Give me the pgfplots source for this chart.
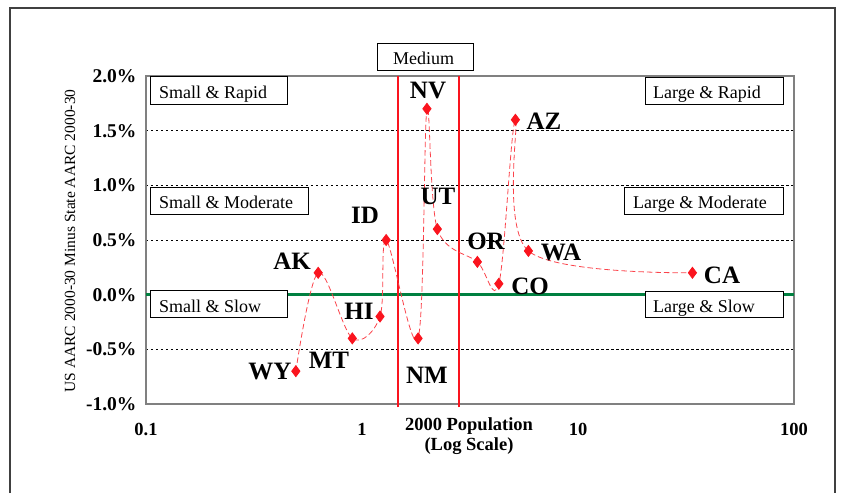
\documentclass[border=0pt]{standalone}
\usepackage{fontspec}
\setmainfont{Liberation Serif}
\usepackage{pgfplots}
\pgfplotsset{compat=1.18}
\definecolor{chartred}{RGB}{250,20,30}
\definecolor{chartgreen}{RGB}{0,128,64}
\definecolor{axisgray}{RGB}{128,128,128}
\definecolor{framegray}{RGB}{64,64,64}

\pgfplotstableread{
x y
0.494 -0.7
0.627 0.2
0.902 -0.4
1.212 -0.2
1.294 0.5
1.819 -0.4
1.998 1.7
2.233 0.6
3.421 0.3
4.301 0.1
5.131 1.6
5.894 0.4
33.872 0.2
}\statedata

\begin{document}
\begin{tikzpicture}[x=1pt,y=1pt]
\path[use as bounding box] (0,0) rectangle (841,493);
\draw[framegray, line width=1.3pt] (10,0) -- (10,485) -- (835,485) -- (835,0);
\begin{axis}[
  at={(146pt,89pt)}, anchor=south west,
  scale only axis, width=648pt, height=328pt,
  xmode=log, xmin=0.1, xmax=100, ymin=-1, ymax=2,
  xtick={0.1,1,10,100}, xticklabels={0.1,1,10,100},
  ytick={-1,-0.5,0,0.5,1,1.5,2},
  yticklabel={\pgfmathprintnumber[fixed,fixed zerofill,precision=1]{\tick}\%},
  /pgf/number format/assume math mode=true,
  major tick length=0pt, minor tick length=0pt,
  ymajorgrids, grid style={black, dash pattern=on 2.5pt off 2.5pt, line width=0.6pt},
  axis line style={axisgray, line width=1.2pt},
  xticklabel style={font=\fontsize{18.5}{20}\selectfont\bfseries, yshift=-16pt},
  yticklabel style={font=\fontsize{19.5}{21}\selectfont\bfseries, xshift=-6pt},
  clip=false,
]
\addplot[chartgreen, line width=2.6pt, mark=none] coordinates {(0.1,0) (100,0)};
\addplot[chartred, line width=2.4pt, mark=none] coordinates {(1.47,-1.03) (1.47,2)};
\addplot[chartred, line width=2.4pt, mark=none] coordinates {(2.81,-1.03) (2.81,2)};
\addplot[smooth, tension=0.55, color=chartred!80, line width=0.8pt,
  dash pattern=on 5.5pt off 3pt, mark=diamond*, mark size=5.5pt,
  mark options={solid, fill=chartred, draw=chartred}] table[x=x,y=y] {\statedata};
\end{axis}
% y label
\node[rotate=90, font=\fontsize{15.5}{17}\selectfont] at (70,252) {US AARC 2000-30 Minus State AARC 2000-30};
% x label
\node[anchor=base, font=\fontsize{18.5}{20}\selectfont\bfseries, inner sep=0] at (469,63) {2000 Population};
\node[anchor=base, font=\fontsize{18.5}{20}\selectfont\bfseries, inner sep=0] at (469,42) {(Log Scale)};
% boxes
\tikzset{qbox/.style={draw=black, fill=white, line width=0.8pt, anchor=north west, inner sep=0pt},
         qtxt/.style={anchor=base west, inner sep=0pt, font=\fontsize{18}{20}\selectfont}}
\node[qbox, minimum width=137pt, minimum height=28pt] at (150,417) {};
\node[qtxt] at (159,394) {Small \& Rapid};
\node[qbox, minimum width=158pt, minimum height=27pt] at (150,306) {};
\node[qtxt] at (159,284) {Small \& Moderate};
\node[qbox, minimum width=137pt, minimum height=27pt] at (150,203) {};
\node[qtxt] at (159,180) {Small \& Slow};
\node[qbox, minimum width=138pt, minimum height=27pt] at (645,416) {};
\node[qtxt] at (653,394) {Large \& Rapid};
\node[qbox, minimum width=159pt, minimum height=27pt] at (624,306) {};
\node[qtxt] at (633,284) {Large \& Moderate};
\node[qbox, minimum width=138pt, minimum height=26pt] at (645,202) {};
\node[qtxt] at (653,180) {Large \& Slow};
\node[qbox, minimum width=96pt, minimum height=27pt] at (377,450) {};
\node[qtxt] at (393,428) {Medium};
% state labels
\tikzset{slab/.style={anchor=center, inner sep=0pt, font=\fontsize{25}{27}\selectfont\bfseries}}
\node[slab] at (270,121) {WY};
\node[slab] at (292,232) {AK};
\node[slab] at (329,133) {MT};
\node[slab] at (359,182) {HI};
\node[slab] at (365,278) {ID};
\node[slab] at (427,118) {NM};
\node[slab] at (428,402) {NV};
\node[slab] at (438,297) {UT};
\node[slab] at (486,252) {OR};
\node[slab] at (530,207) {CO};
\node[slab] at (544,372) {AZ};
\node[slab] at (561,241) {WA};
\node[slab] at (722,218) {CA};
\end{tikzpicture}
\end{document}
